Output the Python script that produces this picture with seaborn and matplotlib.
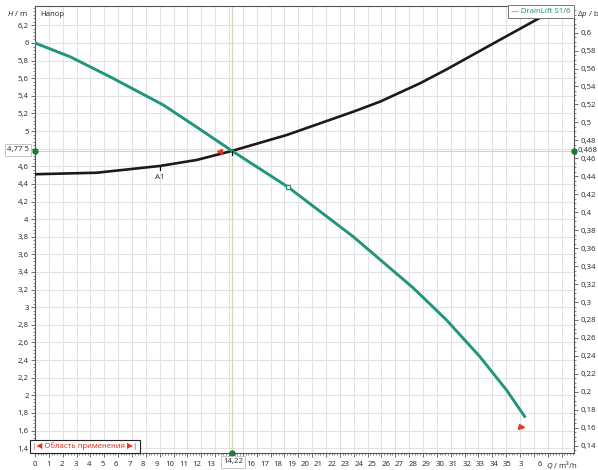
import numpy as np
import pandas as pd
import matplotlib
matplotlib.use("Agg")
import matplotlib.pyplot as plt
from matplotlib.ticker import MultipleLocator, FixedLocator
import seaborn as sns

# Pump head curve H(Q)
pump_q = [0.0, 2.53, 5.41, 9.26, 11.67, 14.22, 18.23, 22.97, 27.29, 29.70, 32.11, 34.03, 35.35]
pump_h = [6.00, 5.844, 5.617, 5.296, 5.045, 4.775, 4.368, 3.801, 3.22, 2.855, 2.438, 2.060, 1.757]

# System curve H(Q)
system_q = [0.0, 4.45, 9.02, 11.67, 14.22, 18.16, 22.97, 24.90, 27.78, 29.70, 33.31, 36.67, 37.8]
system_h = [4.51, 4.527, 4.604, 4.672, 4.775, 4.955, 5.220, 5.334, 5.542, 5.700, 6.015, 6.306, 6.43]

# Duty point and markers
duty_q = 14.22
duty_h = 4.775
duty_dp = 0.468
duty_h_label = "4,77 5"
duty_dp_label = "0,468"
duty_q_label = "14,22"
a1_q, a1_h = 9.02, 4.604
open_q, open_h = 18.23, 4.368
range_left_q, range_left_h = 13.28, 4.775
range_right_q, range_right_h = 35.1, 1.637

# Axis ticks
h_ticks = [1.4, 1.6, 1.8, 2.0, 2.2, 2.4, 2.6, 2.8, 3.0, 3.2, 3.4, 3.6, 3.8, 4.0,
           4.2, 4.4, 4.6, 4.8, 5.0, 5.2, 5.4, 5.6, 5.8, 6.0, 6.2]
dp_ticks = [0.14, 0.16, 0.18, 0.2, 0.22, 0.24, 0.26, 0.28, 0.3, 0.32, 0.34, 0.36, 0.38,
            0.4, 0.42, 0.44, 0.46, 0.48, 0.5, 0.52, 0.54, 0.56, 0.58, 0.6]
q_tick_labels = [str(i) for i in range(36)] + ["3", "6"]
q_tick_pos = [i * 0.974 for i in range(36)] + [35.06, 36.43]

M_PER_BAR = 10.197
Q_MAX = 38.9
H_MIN, H_MAX = 1.345, 6.42

TEAL = "#22957e"
CURVE_BLACK = "#1b1b1b"
GRID = "#e2e2e2"
MARK_LINE = "#c9dcc2"
DOT_GREEN = "#1d7a35"
RED = "#e2382b"
FS = 5.6

sns.set_theme(style="white")
plt.rcParams["font.family"] = ["Noto Sans", "DejaVu Sans"]
plt.rcParams["mathtext.fontset"] = "custom"
plt.rcParams["mathtext.rm"] = "Noto Sans"
plt.rcParams["mathtext.it"] = "Noto Sans:italic"

W, H = 598, 470
fig = plt.figure(figsize=(W / 100, H / 100), dpi=100)
fig.patch.set_facecolor("white")
ax = fig.add_axes([35 / W, 17 / H, 539 / W, 447 / H])


def fx(px):
    return px / W


def fy(py):
    return 1 - py / H


pump = pd.DataFrame({"Q": pump_q, "H": pump_h})
system = pd.DataFrame({"Q": system_q, "H": system_h})

sns.lineplot(data=system, x="Q", y="H", ax=ax, color=CURVE_BLACK, lw=1.9,
             sort=False, zorder=4)
sns.lineplot(data=pump, x="Q", y="H", ax=ax, color=TEAL, lw=2.1,
             sort=False, zorder=5)

ax.set_xlim(0, Q_MAX)
ax.set_ylim(H_MIN, H_MAX)
ax.set_xlabel("")
ax.set_ylabel("")

# grid
ax.xaxis.set_major_locator(MultipleLocator(1))
ax.xaxis.set_minor_locator(MultipleLocator(0.2))
ax.set_xticklabels([])
ax.yaxis.set_major_locator(FixedLocator(h_ticks))
ax.yaxis.set_minor_locator(MultipleLocator(0.04))
ax.set_yticklabels([f"{v:g}".replace(".", ",") for v in h_ticks])
ax.grid(True, which="major", color=GRID, lw=0.8)
ax.set_axisbelow(True)
ax.tick_params(axis="both", which="major", direction="out", length=3, width=0.6,
               color="#555", labelsize=FS, labelcolor="#333", pad=1.5)
ax.tick_params(axis="both", which="minor", direction="out", length=1.6, width=0.5,
               color="#555")
ax.tick_params(axis="x", which="both", bottom=True)
ax.tick_params(axis="y", which="both", left=True)
for s in ax.spines.values():
    s.set_color("#555")
    s.set_linewidth(0.8)

# flow labels along the bottom
xt = ax.get_xaxis_transform()
for pos, lab in zip(q_tick_pos, q_tick_labels):
    ax.text(pos, -12 / 447, lab, transform=xt, ha="center", va="center",
            fontsize=FS, color="#333", clip_on=False)

# right axis: differential pressure
ax2 = ax.twinx()
ax2.set_ylim(H_MIN / M_PER_BAR, H_MAX / M_PER_BAR)
ax2.yaxis.set_major_locator(FixedLocator(dp_ticks))
ax2.yaxis.set_minor_locator(MultipleLocator(0.005))
ax2.set_yticklabels([f"{v:g}".replace(".", ",") for v in dp_ticks])
ax2.tick_params(axis="y", which="major", direction="out", length=3, width=0.6,
                color="#555", labelsize=FS, labelcolor="#333", pad=1.5, right=True)
ax2.tick_params(axis="y", which="minor", direction="out", length=1.6, width=0.5,
                color="#555", right=True)
ax2.grid(False)
for s in ax2.spines.values():
    s.set_visible(False)

# duty point cross-hair
ax.axhline(duty_h, color=MARK_LINE, lw=0.8, zorder=1)
ax.axvline(duty_q, color=MARK_LINE, lw=0.9, zorder=1)
ax.plot([duty_q, duty_q], [duty_h, duty_h - 0.05], color="black", lw=0.9, zorder=6)
ax.plot([0, Q_MAX, duty_q], [duty_h, duty_h, H_MIN], "o", color=DOT_GREEN, ms=3.6,
        clip_on=False, zorder=7)

# A1 marker
ax.plot([a1_q, a1_q], [a1_h, a1_h - 0.05], color="black", lw=0.9, zorder=6)
ax.text(a1_q, a1_h - 0.13, "A1", ha="center", va="center", fontsize=FS, color="#333")

# open square on the pump curve
ax.plot([open_q], [open_h], "s", ms=3.2, mfc="white", mec=TEAL, mew=0.9, zorder=7)

# operating range arrows
ax.plot([range_left_q], [range_left_h], "<", color=RED, ms=3.6, zorder=7)
ax.plot([range_right_q], [range_right_h], ">", color=RED, ms=3.6, zorder=7)

# axis titles and annotations
fig.text(fx(28), fy(14), "$H$ / m", ha="right", va="center", fontsize=FS, color="#333")
fig.text(fx(40), fy(14), "Напор", ha="left", va="center", fontsize=FS, color="#333")
fig.text(fx(577), fy(15), r"$\Delta p$ / b", ha="left", va="center", fontsize=FS,
         color="#333")
fig.text(fx(546), fy(465), "$Q$ / m³/h", ha="left", va="center", fontsize=FS,
         color="#333")

fig.text(fx(18), fy(150), duty_h_label, ha="center", va="center", fontsize=FS,
         color="#333", bbox=dict(boxstyle="square,pad=0.3", fc="white", ec="#bdbdbd",
                                 lw=0.6))
fig.text(fx(578), fy(150.5), duty_dp_label, ha="left", va="center", fontsize=FS,
         color="#333")
fig.text(fx(233), fy(462), duty_q_label, ha="center", va="center", fontsize=FS,
         color="#333", bbox=dict(boxstyle="square,pad=0.3", fc="white", ec="#bdbdbd",
                                 lw=0.6))

# legend
fig.text(fx(541), fy(11.5), "— DrainLift S1/6", ha="center", va="center", fontsize=FS,
         color=TEAL, bbox=dict(boxstyle="square,pad=0.35", fc="white", ec="#777",
                               lw=0.7))

# application range box
fig.text(fx(85), fy(446.5), "|◀ Область применения ▶|", ha="center", va="center",
         fontsize=FS, color=RED, family=["Noto Sans", "DejaVu Sans"],
         bbox=dict(boxstyle="square,pad=0.35", fc="white", ec="#222", lw=0.8))

fig.savefig("out.png", dpi=100, facecolor="white")
